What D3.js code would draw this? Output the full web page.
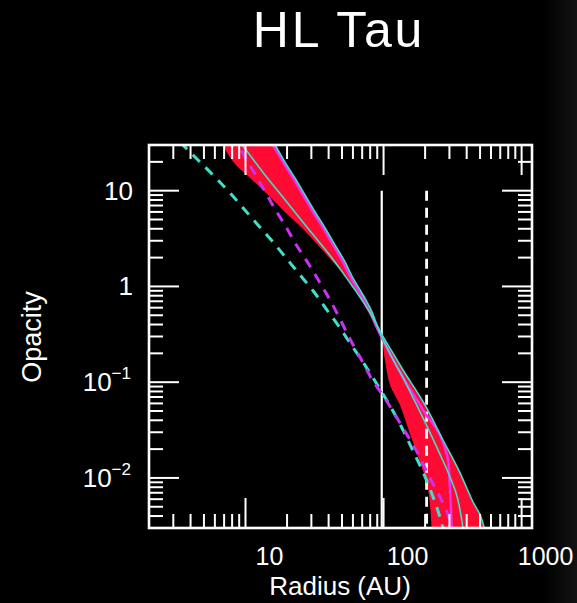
<!DOCTYPE html>
<html>
<head>
<meta charset="utf-8">
<script src="https://cdn.jsdelivr.net/npm/d3@7"></script>
<style>
  html, body { margin: 0; padding: 0; background: #000; }
  svg { display: block; }
</style>
</head>
<body>
<svg id="chart" width="577" height="603"></svg>
<script>
// ---------- data (radius in AU, opacity) ----------
const title = "HL Tau";
const xLabel = "Radius (AU)";
const yLabel = "Opacity";
const xDomain = [2, 1189];
const yDomain = [0.003, 30];
const xMajorTicks = [10, 100, 1000];
const xTickLabels = ["10", "100", "1000"];
const yMajorTicks = [10, 1, 0.1, 0.01];
const yTickBase = ["10", "1", "10", "10"];
const yTickExp = ["", "", "\u22121", "\u22122"];

// red band: left outline (top -> bottom) and right outline (top -> bottom)
const bandLeft = [[5.63,43.0],[6.76,30.0],[8.53,18.5],[10.8,13.6],[14.6,9.01],[19.3,5.99],[25.7,4.08],[33.5,2.71],[43.0,1.80],[54.3,1.22],[65.3,0.814],[77.2,0.541],[89.7,0.368],[95.8,0.311],[102.4,0.170],[111.4,0.0934],[131.5,0.0578],[150.3,0.0332],[166.1,0.0221],[186.7,0.01365],[206.4,0.00864],[216.9,0.00522],[224.2,0.00253]];
const bandRight = [[14.1,43.0],[16.4,30.0],[19.3,19.9],[22.8,13.6],[27.0,9.01],[31.9,5.99],[37.7,4.08],[44.5,2.71],[52.6,1.80],[60.1,1.22],[71.0,0.814],[82.5,0.541],[91.2,0.368],[97.4,0.296],[113.2,0.217],[138.3,0.134],[199.6,0.0578],[269.4,0.0249],[357.8,0.0113],[444.4,0.00561],[516.5,0.00364],[552.1,0.00253]];

// cyan solid model curves
const cyanSteep = [[14.1,43.0],[16.4,30.0],[19.3,19.9],[22.8,13.6],[27.0,9.01],[31.9,5.99],[37.7,4.08],[44.5,2.71],[52.6,1.80],[60.1,1.22],[71.0,0.814],[82.5,0.541],[91.2,0.368],[107.7,0.217],[138.3,0.111],[193.1,0.0423],[247.9,0.0196],[302.8,0.0102],[346.0,0.00588],[376.1,0.00300],[382.4,0.00253]];
const cyanShallow = [[8.53,38.2],[9.43,30.0],[10.08,26.6],[13.84,14.6],[18.38,8.80],[24.0,5.44],[31.9,3.28],[42.3,1.98],[55.2,1.17],[69.8,0.722],[82.5,0.491],[94.25,0.342],[113.2,0.217],[138.3,0.134],[199.6,0.0578],[269.4,0.0249],[357.8,0.0113],[444.4,0.00561],[516.5,0.00364],[552.1,0.00253]];
// magenta solid model curve
const magentaSolid = [[13.39,43.0],[15.82,30.0],[18.69,19.9],[22.08,13.6],[26.09,9.01],[30.83,5.99],[36.42,4.08],[43.03,2.71],[50.83,1.80],[58.09,1.22],[68.64,0.814],[79.77,0.541],[89.65,0.368],[99.06,0.276],[138.3,0.113],[193.1,0.0512],[288.0,0.0174],[297.8,0.0121],[302.8,0.00748],[307.9,0.00462],[313.2,0.00253]];
// dashed curves
const cyanDashed = [[3.354,32.2],[4.529,20.9],[6.321,12.9],[7.852,9.23],[9.752,6.44],[12.12,4.49],[15.82,2.91],[19.98,1.93],[24.81,1.32],[31.35,0.875],[38.94,0.567],[48.35,0.368],[59.07,0.239],[70.97,0.162],[83.87,0.111],[99.06,0.0752],[117.0,0.0500],[138.3,0.0317],[163.4,0.0191],[193.1,0.0115],[224.2,0.00679],[252.0,0.00420],[269.4,0.00300],[278.6,0.00253]];
const magentaDashed = [[7.984,38.2],[8.823,30.0],[11.72,14.9],[16.36,6.44],[19.65,4.18],[23.60,2.64],[28.36,1.76],[34.64,1.09],[40.93,0.722],[49.17,0.435],[58.09,0.269],[68.64,0.175],[79.77,0.116],[104.1,0.0652],[138.3,0.0332],[174.6,0.0187],[216.9,0.00998],[256.3,0.00632],[288.0,0.00441],[313.2,0.00300],[323.8,0.00253]];
// vertical reference radii (solid, dashed) starting at opacity 10
const markerRadii = [97, 205];
const markerTop = 10;

// ---------- drawing ----------
const svg = d3.select("#chart");
const W = 577, H = 603;
const M = {left: 149, right: 532, top: 145, bottom: 528};

const defs = svg.append("defs");
const grad = defs.append("linearGradient").attr("id", "bg").attr("x1", 0).attr("x2", 1).attr("y1", 0).attr("y2", 0);
grad.append("stop").attr("offset", "0.94").attr("stop-color", "#000");
grad.append("stop").attr("offset", "1").attr("stop-color", "#131313");
svg.append("rect").attr("width", W).attr("height", H).attr("fill", "url(#bg)");

const x = d3.scaleLog().domain(xDomain).range([M.left, M.right]);
const y = d3.scaleLog().domain(yDomain).range([M.bottom, M.top]);

defs.append("clipPath").attr("id", "plotclip")
  .append("rect").attr("x", M.left).attr("y", M.top)
  .attr("width", M.right - M.left).attr("height", M.bottom - M.top);

// plot area background
svg.append("rect").attr("x", M.left).attr("y", M.top)
  .attr("width", M.right - M.left).attr("height", M.bottom - M.top).attr("fill", "#000");

const g = svg.append("g").attr("clip-path", "url(#plotclip)");
const line = d3.line().x(d => x(d[0])).y(d => y(d[1])).curve(d3.curveCatmullRom.alpha(0.5));
const lineM = d3.line().x(d => x(d[0])).y(d => y(d[1])).curve(d3.curveMonotoneX);

const RED = "#ff0a32", CYAN = "#3fe0c8", MAG = "#f030f0", MAGD = "#c832f0";

// band
const bandPath = line(bandLeft) + line(bandRight.slice().reverse()).replace(/^M/, "L") + "Z";
g.append("path").attr("d", bandPath).attr("fill", RED).attr("stroke", "none");

// vertical markers
markerRadii.forEach((r, i) => {
  g.append("line")
    .attr("x1", x(r)).attr("x2", x(r))
    .attr("y1", y(markerTop)).attr("y2", y(yDomain[0]))
    .attr("stroke", "#fff")
    .attr("stroke-width", i === 0 ? 2.2 : 2.8)
    .attr("stroke-dasharray", i === 0 ? null : "10,7");
});

// dashed curves
g.append("path").attr("d", lineM(cyanDashed)).attr("fill", "none")
  .attr("stroke", CYAN).attr("stroke-width", 3).attr("stroke-dasharray", "10,8");
g.append("path").attr("d", lineM(magentaDashed)).attr("fill", "none")
  .attr("stroke", MAGD).attr("stroke-width", 3).attr("stroke-dasharray", "10,8");

// solid curves
g.append("path").attr("d", lineM(magentaSolid)).attr("fill", "none")
  .attr("stroke", MAG).attr("stroke-width", 2.5);
[cyanSteep, cyanShallow].forEach(c => {
  g.append("path").attr("d", lineM(c)).attr("fill", "none")
    .attr("stroke", CYAN).attr("stroke-width", 1.6);
});

// ---------- axes (ticks on all four sides) ----------
const ax = svg.append("g").attr("stroke", "#fff").attr("stroke-width", 2);
const MAJ = 30, MIN = 14;
function minorsIn(domain) {
  const out = [];
  for (let e = -4; e <= 4; e++) {
    for (let k = 2; k <= 9; k++) {
      const v = k * Math.pow(10, e);
      if (v >= domain[0] * 0.999 && v <= domain[1] * 1.001) out.push(v);
    }
  }
  return out;
}
const xMin = minorsIn(xDomain), yMin = minorsIn(yDomain);
function xTick(v, len) {
  ax.append("line").attr("x1", x(v)).attr("x2", x(v)).attr("y1", M.bottom).attr("y2", M.bottom - len);
  ax.append("line").attr("x1", x(v)).attr("x2", x(v)).attr("y1", M.top).attr("y2", M.top + len);
}
function yTick(v, len) {
  ax.append("line").attr("y1", y(v)).attr("y2", y(v)).attr("x1", M.left).attr("x2", M.left + len);
  ax.append("line").attr("y1", y(v)).attr("y2", y(v)).attr("x1", M.right).attr("x2", M.right - len);
}
xMin.forEach(v => xTick(v, MIN));
xMajorTicks.forEach(v => xTick(v, MAJ));
yMin.forEach(v => yTick(v, MIN));
yMajorTicks.forEach(v => yTick(v, MAJ));

svg.append("rect").attr("x", M.left).attr("y", M.top)
  .attr("width", M.right - M.left).attr("height", M.bottom - M.top)
  .attr("fill", "none").attr("stroke", "#fff").attr("stroke-width", 2.6);

// ---------- text ----------
const FONT = "'Liberation Sans', Arial, Helvetica, sans-serif";
svg.append("text").attr("x", 339).attr("y", 47).attr("text-anchor", "middle")
  .attr("fill", "#fff").attr("font-family", FONT)
  .attr("font-size", 50).attr("letter-spacing", 2.8).text(title);

xMajorTicks.forEach((v, i) => {
  svg.append("text").attr("x", x(v) + 24).attr("y", 565).attr("text-anchor", "middle")
    .attr("fill", "#fff").attr("font-family", FONT).attr("font-size", 25).text(xTickLabels[i]);
});
yMajorTicks.forEach((v, i) => {
  const t = svg.append("text").attr("x", yTickExp[i] ? 131 : 133).attr("y", y(v) + 9)
    .attr("text-anchor", "end").attr("fill", "#fff")
    .attr("font-family", FONT).attr("font-size", 26);
  t.append("tspan").text(yTickBase[i]);
  if (yTickExp[i]) {
    t.append("tspan").attr("dy", -12).attr("font-size", 17).text(yTickExp[i]);
  }
});

svg.append("text").attr("x", 340).attr("y", 595).attr("text-anchor", "middle")
  .attr("fill", "#fff").attr("font-family", FONT).attr("font-size", 26).text(xLabel);
svg.append("text").attr("transform", "translate(41,337) rotate(-90)")
  .attr("text-anchor", "middle").attr("fill", "#fff")
  .attr("font-family", FONT).attr("font-size", 27).text(yLabel);
</script>
</body>
</html>
